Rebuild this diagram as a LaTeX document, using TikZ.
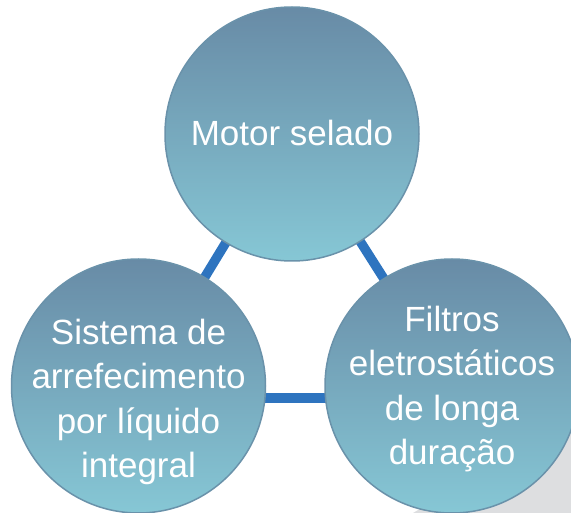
\documentclass[tikz,border=0pt]{standalone}
\usepackage{fontspec}
\setmainfont{Liberation Sans}
\definecolor{ctop}{RGB}{104,139,166}
\definecolor{cbot}{RGB}{134,199,213}
\definecolor{cedge}{RGB}{106,146,170}
\definecolor{clink}{RGB}{46,116,191}
\definecolor{cshadow}{RGB}{221,222,224}
\begin{document}
\begin{tikzpicture}[x=1pt,y=-1pt,
  bubble/.style={circle, minimum size=254pt, inner sep=0pt, top color=ctop, bottom color=cbot,
    draw=cedge, line width=1.5pt},
  label/.style={text=white, align=center, inner sep=0pt, font=\fontsize{35}{44.5}\selectfont},
  link/.style={draw=clink, line width=9.5pt}]
\useasboundingbox (0,0) rectangle (571,513);
\begin{scope}
\clip (0,0) rectangle (571,513);
\fill[cshadow] (413,513) -- (571,513) -- (571,420) -- cycle;
\coordinate (T) at (292,134);
\coordinate (L) at (138.5,386);
\coordinate (R) at (452,386);
\draw[link] (L) -- (T);
\draw[link] (T) -- (R);
\draw[link] ([yshift=-12pt]L) -- ([yshift=-12pt]R);
\node[bubble] (top) at (T) {};
\node[bubble] (left) at (L) {};
\node[bubble] (right) at (R) {};
\node[label] (ttext) at (292,133) {Motor selado};
\node[label] (ltext) at (138.5,402) {Sistema de\\arrefecimento\\por líquido\\integral};
\node[label] (rtext) at (452,389) {Filtros\\eletrostáticos\\de longa\\duração};
\end{scope}
\end{tikzpicture}
\end{document}
